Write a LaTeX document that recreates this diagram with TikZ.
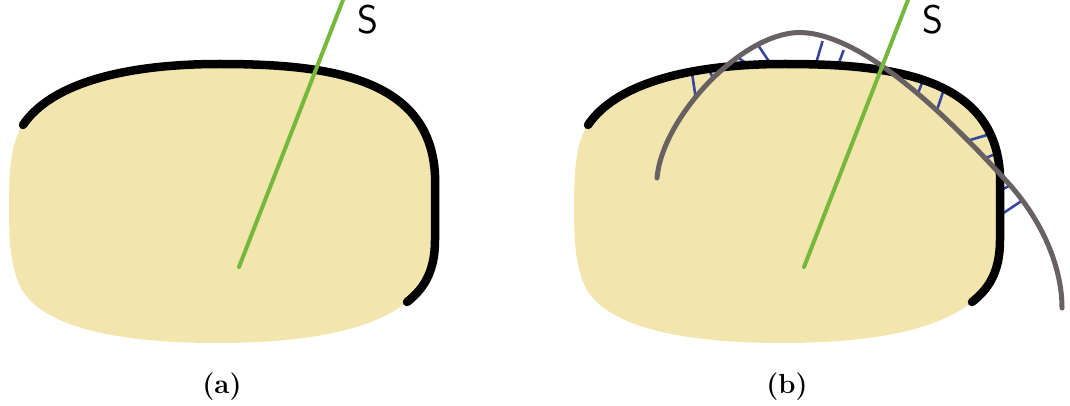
\documentclass[tikz,border=0pt]{standalone}
\usepackage{fontspec}
\usepackage{tikz}
\definecolor{blobfill}{HTML}{F2E5AE}
\definecolor{sgreen}{HTML}{76B83C}
\definecolor{curvegray}{HTML}{676161}
\definecolor{hatchblue}{HTML}{3646A0}
\begin{document}
\begin{tikzpicture}[x=1pt,y=-1pt,
  blob/.style={fill=blobfill},
  boundary/.style={line width=8.5pt, line cap=round, draw=black},
  stalk/.style={line width=4pt, line cap=round, draw=sgreen},
  loopcurve/.style={line width=5pt, line cap=round, draw=curvegray},
  hatch/.style={line width=2.6pt, draw=hatchblue, shorten <=-2pt, shorten >=-2pt},
  slabel/.style={font=\sffamily\fontsize{40}{48}\selectfont, anchor=base, inner sep=0pt},
  sublabel/.style={font=\bfseries\fontsize{27.5}{33}\selectfont, anchor=base, inner sep=0pt}]
\useasboundingbox (0,0) rectangle (1070,406);
% fills
\foreach \dx in {0,565}{
 \begin{scope}[xshift=\dx pt]
  \fill[blob] (23,125) .. controls (50,85) and (120,64) .. (220,64)
    .. controls (330,64) and (432,80) .. (435,175) -- (435,240)
    .. controls (435,270) and (425,288) .. (407,302)
    .. controls (370,332) and (300,343) .. (217,343)
    .. controls (120,343) and (45,328) .. (22,290)
    .. controls (10,268) and (9,240) .. (9,205)
    .. controls (9,165) and (12,140) .. (23,125) -- cycle;
 \end{scope}}
% hatch lines (panel b)
\coordinate (h1a) at (692,73);  \coordinate (h1b) at (695,93);
\coordinate (h2a) at (710,72);  \coordinate (h2b) at (712,76);
\coordinate (h3a) at (740,59);  \coordinate (h3b) at (743,61);
\coordinate (h4a) at (768,60);  \coordinate (h4b) at (758,45);
\coordinate (h5a) at (817,60);  \coordinate (h5b) at (822,43);
\coordinate (h6a) at (840,60);  \coordinate (h6b) at (843,52);
\coordinate (h7a) at (922,83);  \coordinate (h7b) at (918,93);
\coordinate (h8a) at (943,92);  \coordinate (h8b) at (938,107);
\coordinate (h9a) at (987,135); \coordinate (h9b) at (970,140);
\coordinate (h10a) at (993,155); \coordinate (h10b) at (988,157);
\coordinate (h11a) at (1005,188); \coordinate (h11b) at (1007,187);
\coordinate (h12a) at (1005,212); \coordinate (h12b) at (1020,202);
\foreach \i in {1,...,12}{\draw[hatch] (h\i a) -- (h\i b);}
% boundaries
\foreach \dx in {0,565}{
 \begin{scope}[xshift=\dx pt]
  \draw[boundary] (23,125) .. controls (50,85) and (120,64) .. (220,64)
    .. controls (330,64) and (430,78) .. (435,175) -- (435,240)
    .. controls (435,270) and (425,288) .. (407,302);
 \end{scope}}
% gray curve
\coordinate (g0) at (657,178);
\coordinate (g1) at (792,33);
\coordinate (g2) at (1010,185);
\coordinate (g3) at (1062,308);
\draw[loopcurve] (g0) .. controls (662,120) and (735,40) .. (g1)
  .. controls (860,25) and (960,130) .. (g2)
  .. controls (1045,225) and (1062,270) .. (g3);
% stalks and labels
\foreach \dx/\lab in {0/a,565/b}{
 \begin{scope}[xshift=\dx pt]
  \coordinate (root\lab) at (239,267);
  \coordinate (tip\lab) at (343,0);
  \draw[stalk] (root\lab) -- (tip\lab);
  \node[slabel] (S\lab) at (368,34) {S};
  \node[sublabel] (lab\lab) at (222,393) {(\lab)};
 \end{scope}}
\end{tikzpicture}
\end{document}
